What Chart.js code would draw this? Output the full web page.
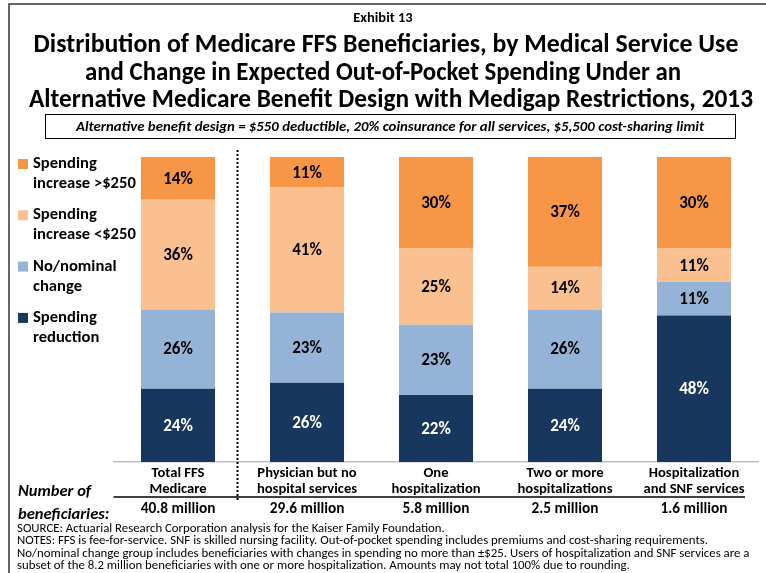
<!DOCTYPE html>
<html>
<head>
<meta charset="utf-8">
<script src="https://cdn.jsdelivr.net/npm/chart.js@4.4.1/dist/chart.umd.min.js"></script>
<style>
  html, body { margin: 0; padding: 0; background: #fff; }
  #wrap { width: 766px; height: 573px; }
</style>
</head>
<body>
<div id="wrap"><canvas id="chart" width="766" height="573"></canvas></div>
<script>
var categories = [
	['Total FFS', 'Medicare'],
	['Physician but no', 'hospital services'],
	['One', 'hospitalization'],
	['Two or more', 'hospitalizations'],
	['Hospitalization', 'and SNF services']
];
var beneficiaries = ['40.8 million', '29.6 million', '5.8 million', '2.5 million', '1.6 million'];

var spendingReduction = [24, 26, 22, 24, 48];
var noNominalChange   = [26, 23, 23, 26, 11];
var increaseUnder250  = [36, 41, 25, 14, 11];
var increaseOver250   = [14, 11, 30, 37, 30];

var seriesNames = [
	['Spending', 'reduction'],
	['No/nominal', 'change'],
	['Spending', 'increase <$250'],
	['Spending', 'increase >$250']
];
var seriesColors = ['#17375e', '#95b3d7', '#fac090', '#f79646'];
var labelColors  = ['#ffffff', '#000000', '#000000', '#000000'];

var titleLines = [
	'Distribution of Medicare FFS Beneficiaries, by Medical Service Use',
	'and Change in Expected Out-of-Pocket Spending Under an',
	'Alternative Medicare Benefit Design with Medigap Restrictions, 2013'
];
var boxText = 'Alternative benefit design = $550 deductible, 20% coinsurance for all services, $5,500 cost-sharing limit';
var notes = [
	'SOURCE: Actuarial Research Corporation analysis for the Kaiser Family Foundation.',
	'NOTES: FFS is fee-for-service. SNF is skilled nursing facility. Out-of-pocket spending includes premiums and cost-sharing requirements.',
	'No/nominal change group includes beneficiaries with changes in spending no more than \u00b1$25. Users of hospitalization and SNF services are a',
	'subset of the 8.2 million beneficiaries with one or more hospitalization. Amounts may not total 100% due to rounding.'
];

var FONT = 'Carlito, Lato, "Liberation Sans Narrow", sans-serif';

var seriesValues = [spendingReduction, noNominalChange, increaseUnder250, increaseOver250];
var datasets = seriesValues.map(function (vals, i) {
	return {
		label: seriesNames[i].join(' '),
		data: vals,
		backgroundColor: seriesColors[i],
		borderWidth: 0,
		clip: 0
	};
});

// draws text squeezed to a width if the font runs wider than it
function fitText(ctx, text, x, y, maxW) {
	var w = ctx.measureText(text).width;
	if (maxW && w > maxW) {
		ctx.fillText(text, x, y, maxW);
	} else {
		ctx.fillText(text, x, y);
	}
}

var segmentLabels = {
	id: 'segmentLabels',
	afterDatasetsDraw: function (chart) {
		var ctx = chart.ctx;
		ctx.save();
		ctx.font = 'bold 17px ' + FONT;
		ctx.textAlign = 'center';
		ctx.textBaseline = 'middle';
		chart.data.datasets.forEach(function (ds, i) {
			var meta = chart.getDatasetMeta(i);
			meta.data.forEach(function (bar, j) {
				var top = Math.max(bar.y, chart.chartArea.top);
				var mid = (top + bar.base) / 2;
				ctx.fillStyle = labelColors[i];
				ctx.fillText(ds.data[j] + '%', bar.x, mid + 1);
			});
		});
		ctx.restore();
	}
};

var decorations = {
	id: 'decorations',
	afterDraw: function (chart) {
		var ctx = chart.ctx;
		var x = chart.scales.x;
		ctx.save();

		// frame
		ctx.strokeStyle = '#333';
		ctx.lineWidth = 1.5;
		ctx.beginPath();
		ctx.moveTo(9, 573);
		ctx.lineTo(9, 4);
		ctx.lineTo(766, 4);
		ctx.stroke();

		// titles
		ctx.fillStyle = '#000';
		ctx.textAlign = 'center';
		ctx.textBaseline = 'middle';
		ctx.font = 'bold 14.5px ' + FONT;
		ctx.fillText('Exhibit 13', 383, 18);
		ctx.font = 'bold 25.8px ' + FONT;
		fitText(ctx, titleLines[0], 386, 46, 706);
		fitText(ctx, titleLines[1], 383, 74, 596);
		fitText(ctx, titleLines[2], 391, 101, 724);

		// design box
		ctx.lineWidth = 1;
		ctx.strokeStyle = '#000';
		ctx.strokeRect(45.5, 114.5, 690, 24);
		ctx.font = 'italic bold 14.8px ' + FONT;
		fitText(ctx, boxText, 390, 127, 640);

		// legend, top item is the last series
		ctx.textAlign = 'left';
		ctx.font = 'bold 16.6px ' + FONT;
		for (var k = 0; k < seriesNames.length; k++) {
			var si = seriesNames.length - 1 - k;
			var y0 = 164 + k * 51.3;
			ctx.fillStyle = seriesColors[si];
			ctx.fillRect(18, y0 - 5, 10, 10);
			ctx.fillStyle = '#000';
			ctx.fillText(seriesNames[si][0], 33, y0);
			ctx.fillText(seriesNames[si][1], 33, y0 + 20);
		}

		// dotted divider between total and the groups
		var divX = Math.round((x.getPixelForValue(0) + x.getPixelForValue(1)) / 2) - 5.5;
		ctx.strokeStyle = '#000';
		ctx.lineWidth = 2;
		ctx.setLineDash([2, 2]);
		ctx.beginPath();
		ctx.moveTo(divX, 150);
		ctx.lineTo(divX, 500);
		ctx.stroke();
		ctx.setLineDash([]);

		// line under the categories, then the beneficiary counts
		ctx.lineWidth = 1.5;
		ctx.beginPath();
		ctx.moveTo(x.left, 497);
		ctx.lineTo(745, 497);
		ctx.stroke();

		ctx.textAlign = 'center';
		ctx.font = 'bold 15.3px ' + FONT;
		beneficiaries.forEach(function (b, j) {
			ctx.fillText(b, x.getPixelForValue(j), 509);
		});

		ctx.textAlign = 'left';
		ctx.font = 'italic bold 16.5px ' + FONT;
		ctx.fillText('Number of', 18, 492);
		ctx.fillText('beneficiaries:', 18, 515);

		// source and notes
		ctx.font = '12.8px ' + FONT;
		notes.forEach(function (line, j) {
			fitText(ctx, line, 17, 528.5 + j * 12.6, 740);
		});

		ctx.restore();
	}
};

var chart = new Chart(document.getElementById('chart'), {
	type: 'bar',
	data: {
		labels: categories,
		datasets: datasets
	},
	options: {
		responsive: false,
		animation: false,
		layout: {
			padding: { top: 157, left: 113.5, right: 7.5, bottom: 76 }
		},
		datasets: {
			bar: { barPercentage: 0.574, categoryPercentage: 1 }
		},
		plugins: {
			legend: { display: false },
			tooltip: { enabled: false },
			title: { display: false }
		},
		scales: {
			x: {
				stacked: true,
				grid: { display: false, drawTicks: false },
				border: { display: true, color: '#bfbfbf', width: 1.5 },
				ticks: {
					color: '#000',
					padding: 3,
					maxRotation: 0,
					autoSkip: false,
					font: { family: FONT, size: 14.6, weight: 'bold', lineHeight: 1.1 }
				},
				afterFit: function (scale) { scale.height = 35; }
			},
			y: {
				stacked: true,
				display: false,
				min: 0,
				max: 100
			}
		}
	},
	plugins: [segmentLabels, decorations]
});
</script>
</body>
</html>
